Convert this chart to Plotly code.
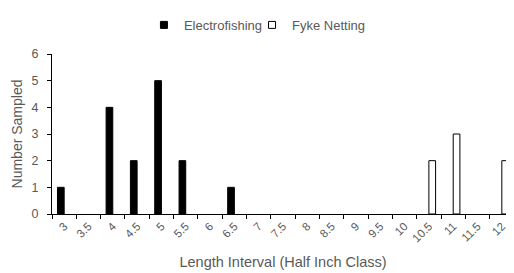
import plotly.graph_objects as go

categories = ["3", "3.5", "4", "4.5", "5", "5.5", "6", "6.5", "7", "7.5", "8", "8.5",
              "9", "9.5", "10", "10.5", "11", "11.5", "12"]
electrofishing = [1, 0, 4, 2, 5, 2, 0, 1, 0, 0, 0, 0, 0, 0, 0, 0, 0, 0, 0]
fyke_netting = [0, 0, 0, 0, 0, 0, 0, 0, 0, 0, 0, 0, 0, 0, 0, 2, 3, 0, 2]
series_names = ["Electrofishing", "Fyke Netting"]

grey = "#595959"
font = "Liberation Sans"

def nz(vals):
    return [v if v else None for v in vals]

fig = go.Figure()
fig.add_trace(go.Bar(x=categories, y=nz(electrofishing), name=series_names[0], showlegend=False,
                     marker=dict(color="black", line=dict(color="black", width=1))))
fig.add_trace(go.Bar(x=categories, y=nz(fyke_netting), name=series_names[1], showlegend=False,
                     marker=dict(color="white", line=dict(color="black", width=1))))
# legend-only entries with small square swatches, each in its own legend box
for name, fill, lg in zip(series_names, ["black", "white"], ["legend", "legend2"]):
    fig.add_trace(go.Scatter(x=[None], y=[None], mode="markers", name=name, legend=lg,
                             marker=dict(symbol="square", size=7, color=fill,
                                         line=dict(color="black", width=1))))

legend_common = dict(orientation="h", xanchor="left", y=0.936, yanchor="middle",
                     yref="container", xref="paper", itemwidth=30,
                     bgcolor="rgba(0,0,0,0)",
                     font=dict(size=13, color=grey, family=font))

# page body has an 8px margin, so the figure is sized to fit inside it
fig.update_layout(
    template="none",
    width=506, height=265,
    margin=dict(l=44, r=0, t=46, b=59, autoexpand=False),
    paper_bgcolor="white", plot_bgcolor="white",
    barmode="group", bargap=0.45, bargroupgap=0.0,
    font=dict(family=font, color=grey, size=11),
    legend=dict(x=0.199, **legend_common),
    legend2=dict(x=0.433, **legend_common),
    showlegend=True,
)
fig.update_xaxes(
    type="category", tickangle=-45, showgrid=False, automargin=False,
    showline=True, linecolor="black", linewidth=1,
    ticks="outside", tickson="boundaries", ticklen=4, tickcolor="black",
    tickfont=dict(size=11.5, color=grey, family=font),
    title=dict(text="Length Interval (Half Inch Class)", font=dict(size=14.5, color=grey, family=font), standoff=13),
)
fig.update_yaxes(
    range=[0, 6], dtick=1, showgrid=False, automargin=False,
    showline=True, linecolor="black", linewidth=1,
    ticks="outside", ticklen=4, tickcolor="black", ticklabelstandoff=6,
    tickfont=dict(size=12.5, color=grey, family=font), zeroline=False,
    title=dict(text="Number Sampled", font=dict(size=14, color=grey, family=font), standoff=5),
)
fig.write_html("out.html")
